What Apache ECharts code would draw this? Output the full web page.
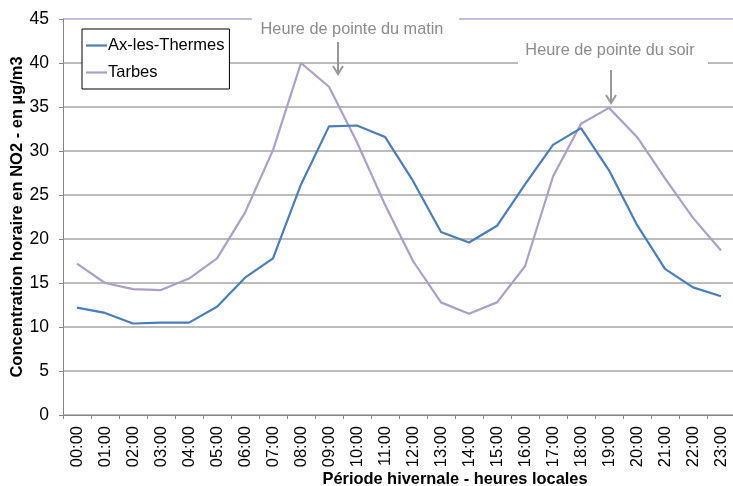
<!DOCTYPE html>
<html><head><meta charset="utf-8">
<script src="https://cdn.jsdelivr.net/npm/echarts@6/dist/echarts.min.js"></script>
<style>html,body{margin:0;padding:0;background:#fff}#c{width:733px;height:486px}</style>
</head><body><div id="c"></div>
<script>
const hours = ['00:00','01:00','02:00','03:00','04:00','05:00','06:00','07:00','08:00','09:00','10:00','11:00','12:00','13:00','14:00','15:00','16:00','17:00','18:00','19:00','20:00','21:00','22:00','23:00'];
const axLesThermes = [12.2,11.6,10.4,10.5,10.5,12.3,15.6,17.8,26.2,32.8,32.9,31.6,26.6,20.8,19.6,21.5,26.2,30.7,32.6,27.8,21.6,16.6,14.5,13.5];
const tarbes = [17.2,15.0,14.3,14.2,15.5,17.8,23.0,30.1,40.0,37.3,31.0,23.9,17.5,12.8,11.5,12.8,16.9,27.1,33.1,34.9,31.6,26.9,22.4,18.7];
const seriesNames = ['Ax-les-Thermes','Tarbes'];
const annotations = ['Heure de pointe du matin','Heure de pointe du soir'];
const yAxisTitle = 'Concentration horaire en NO2 - en µg/m3';
const xAxisTitle = 'Période hivernale - heures locales';

const FONT = 'Liberation Sans, Arial, sans-serif';
const chart = echarts.init(document.getElementById('c'));
const grey = '#8c8c8c';
const gridColors = ['#a6a6a6','#a6a6a6','#a6a6a6','#a6a6a6','#a6a6a6','#a6a6a6','#a6a6a6','#a6a6a6','#a6a6a6','#b0a3cc'];
function arrow(x, y1, y2) {
  return [
    {type:'line', z:20, shape:{x1:x,y1:y1,x2:x,y2:y2}, style:{stroke:'#999',lineWidth:2}},
    {type:'polyline', z:20, shape:{points:[[x-5,y2-8],[x,y2],[x+5,y2-8]]}, style:{stroke:'#999',lineWidth:2,fill:null}}
  ];
}
chart.setOption({
  animation:false,
  backgroundColor:'#fff',
  grid:{left:63, top:19, width:672, height:396, containLabel:false, outerBoundsMode:'none'},
  legend:{
    orient:'vertical', left:82, top:29, data:seriesNames,
    icon:'rect',
    backgroundColor:'#fff', borderColor:'#000', borderWidth:1, borderRadius:0,
    padding:[8,5,8,4], itemGap:10, itemWidth:21, itemHeight:2.2,
    textStyle:{fontFamily:FONT, fontSize:16.5, color:'#000', lineHeight:14, padding:[0,0,0,-4]},
    z:10
  },
  xAxis:{
    type:'category', data:hours, boundaryGap:true,
    axisLine:{lineStyle:{color:'#868686',width:1}},
    axisTick:{show:true, length:4, lineStyle:{color:'#868686'}},
    axisLabel:{rotate:90, interval:0, fontFamily:FONT, fontSize:16.5, color:'#000', margin:11}
  },
  yAxis:{
    type:'value', min:0, max:45, interval:5,
    name:yAxisTitle, nameLocation:'middle', nameGap:37, nameMoveOverlap:false,
    nameTextStyle:{fontFamily:FONT, fontSize:16.5, fontWeight:'bold', color:'#000'},
    axisLine:{show:true, lineStyle:{color:'#868686',width:1}},
    axisTick:{show:true, length:4, lineStyle:{color:'#868686'}},
    axisLabel:{fontFamily:FONT, fontSize:17.5, color:'#000', margin:14},
    splitLine:{show:true, lineStyle:{color:gridColors, width:1.5}}
  },
  series:[
    {name:seriesNames[0], type:'line', data:axLesThermes, symbol:'none', lineStyle:{color:'#4a7ebb', width:2.2}, itemStyle:{color:'#4a7ebb'}, z:3},
    {name:seriesNames[1], type:'line', data:tarbes, symbol:'none', lineStyle:{color:'#ad9fca', width:2.2}, itemStyle:{color:'#ad9fca'}, z:2}
  ],
  graphic:[
    {type:'rect', z:15, shape:{x:252,y:8,width:207,height:40}, style:{fill:'#fff'}},
    {type:'text', z:16, x:352, y:30, style:{text:annotations[0], font:'16.3px '+FONT, fill:grey, textAlign:'center', textVerticalAlign:'middle'}},
    {type:'rect', z:15, shape:{x:518,y:38,width:190,height:30}, style:{fill:'#fff'}},
    {type:'text', z:16, x:610, y:51, style:{text:annotations[1], font:'16.3px '+FONT, fill:grey, textAlign:'center', textVerticalAlign:'middle'}},
    ...arrow(338, 42, 74),
    ...arrow(611, 70, 103),
    {type:'text', z:16, x:455, y:479, style:{text:xAxisTitle, font:'bold 16.4px '+FONT, fill:'#000', textAlign:'center', textVerticalAlign:'middle'}}
  ]
});
</script></body></html>
